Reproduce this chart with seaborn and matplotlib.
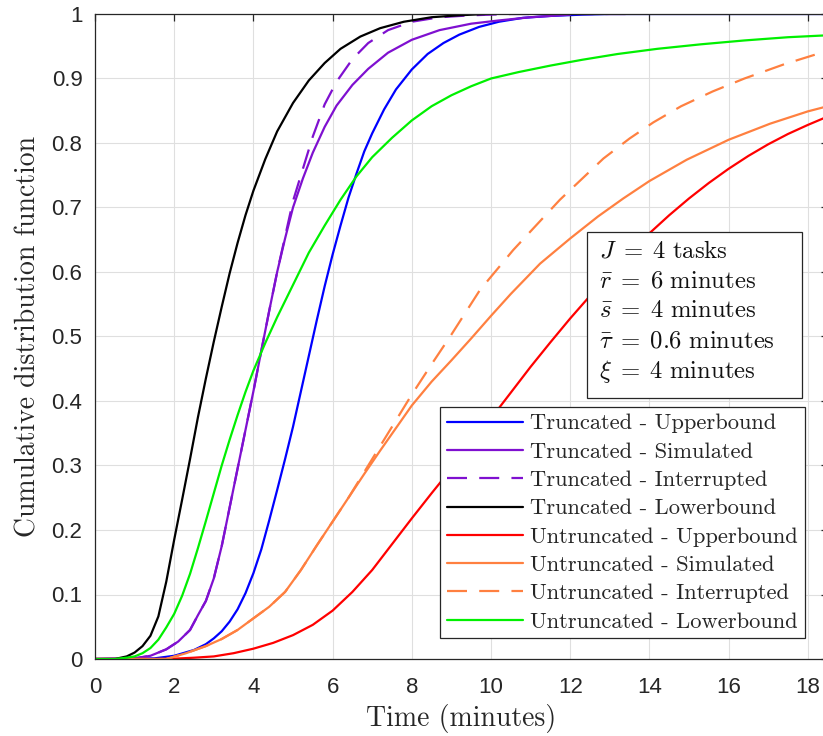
import numpy as np
import pandas as pd
import matplotlib
matplotlib.use("Agg")
import matplotlib.pyplot as plt
from matplotlib.patches import Rectangle
import seaborn as sns

# ---------------- data ----------------
tu_x = [0, 1.5, 2.0, 2.5, 2.8, 3.0, 3.2, 3.4, 3.6, 3.8, 4.0, 4.2, 4.4, 4.6, 4.8, 5.0, 5.2, 5.4, 5.6, 5.8,
        6.0, 6.2, 6.4, 6.6, 6.8, 7.0, 7.3, 7.6, 8.0, 8.4, 8.8, 9.2, 9.7, 10.2, 10.8, 11.5, 12.3, 13.0, 18.5]
tu_y = [0, 0.001, 0.005, 0.014, 0.023, 0.032, 0.043, 0.058, 0.077, 0.102, 0.133, 0.17, 0.215, 0.262, 0.31, 0.36,
        0.415, 0.47, 0.525, 0.578, 0.627, 0.672, 0.715, 0.752, 0.787, 0.815, 0.852, 0.883, 0.914, 0.938, 0.955,
        0.968, 0.98, 0.988, 0.994, 0.997, 0.999, 1.0, 1.0]

ts_x = [0, 1.0, 1.4, 1.8, 2.1, 2.4, 2.6, 2.8, 3.0, 3.2, 3.4, 3.6, 3.8, 4.0, 4.2, 4.4, 4.6, 4.8, 5.0, 5.25,
        5.5, 5.8, 6.1, 6.5, 6.9, 7.4, 8.0, 8.7, 9.5, 10.2, 11.0, 12.0]
ts_y = [0, 0.001, 0.005, 0.015, 0.027, 0.045, 0.068, 0.09, 0.125, 0.175, 0.235, 0.295, 0.355, 0.415, 0.478,
        0.54, 0.60, 0.652, 0.70, 0.745, 0.785, 0.825, 0.858, 0.89, 0.915, 0.94, 0.96, 0.975, 0.985, 0.99,
        0.995, 0.999]

ti_x = [0, 1.0, 1.4, 1.8, 2.1, 2.4, 2.6, 2.8, 3.0, 3.2, 3.4, 3.6, 3.8, 4.0, 4.2, 4.4, 4.6, 4.8, 5.0, 5.25,
        5.5, 5.8, 6.1, 6.5, 6.9, 7.4, 8.0, 8.7, 9.5, 10.5, 13.6]
ti_y = [0, 0.001, 0.005, 0.015, 0.027, 0.045, 0.068, 0.09, 0.125, 0.175, 0.235, 0.295, 0.355, 0.415, 0.478,
        0.54, 0.60, 0.655, 0.71, 0.76, 0.81, 0.86, 0.895, 0.93, 0.955, 0.975, 0.988, 0.995, 0.998, 1.0, 1.0]

tl_x = [0, 0.5, 0.8, 1.0, 1.2, 1.4, 1.6, 1.8, 2.0, 2.2, 2.4, 2.6, 2.8, 3.0, 3.2, 3.4, 3.6, 3.8, 4.0, 4.3,
        4.6, 5.0, 5.4, 5.8, 6.2, 6.7, 7.2, 7.8, 8.5, 9.2, 9.85]
tl_y = [0, 0, 0.004, 0.01, 0.02, 0.036, 0.066, 0.12, 0.185, 0.247, 0.31, 0.375, 0.435, 0.492, 0.546, 0.598,
        0.645, 0.688, 0.726, 0.775, 0.818, 0.862, 0.897, 0.924, 0.946, 0.965, 0.978, 0.988, 0.995, 0.998, 1.0]

uu_x = [0, 1.5, 2.0, 2.5, 3.0, 3.5, 4.0, 4.5, 5.0, 5.5, 6.0, 6.5, 7.0, 7.5, 8.0, 8.5, 9.0, 9.5, 10.0, 10.5,
        11.0, 11.5, 12.0, 12.5, 13.0, 13.5, 14.0, 14.5, 15.0, 15.5, 16.0, 16.5, 17.0, 17.5, 18.0, 18.5]
uu_y = [0, 0, 0.0005, 0.002, 0.004, 0.009, 0.016, 0.025, 0.037, 0.053, 0.075, 0.104, 0.138, 0.178, 0.218, 0.257,
        0.295, 0.333, 0.373, 0.413, 0.453, 0.491, 0.528, 0.563, 0.597, 0.63, 0.66, 0.688, 0.714, 0.738, 0.76,
        0.78, 0.798, 0.814, 0.828, 0.841]

us_x = [0, 1.8, 2.3, 2.8, 3.2, 3.6, 4.0, 4.4, 4.8, 5.2, 5.6, 6.0, 6.4, 6.8, 7.2, 7.6, 8.0, 8.5, 9.0, 9.5,
        10.0, 10.5, 11.24, 12.0, 12.7, 13.34, 14.0, 14.94, 16.0, 17.05, 18.0, 18.5]
us_y = [0, 0, 0.009, 0.02, 0.031, 0.045, 0.063, 0.081, 0.104, 0.138, 0.176, 0.213, 0.25, 0.287, 0.323, 0.358,
        0.393, 0.43, 0.463, 0.497, 0.532, 0.566, 0.613, 0.652, 0.686, 0.714, 0.741, 0.774, 0.805, 0.83, 0.849, 0.857]

ui_x = [0, 1.8, 2.3, 2.8, 3.2, 3.6, 4.0, 4.4, 4.8, 5.2, 5.6, 6.0, 6.4, 6.8, 7.2, 7.6, 8.0, 8.5, 9.0, 9.72,
        10.56, 11.74, 12.84, 13.5, 14.1, 14.8, 15.6, 16.4, 17.4, 18.5]
ui_y = [0, 0, 0.009, 0.02, 0.031, 0.045, 0.063, 0.081, 0.104, 0.138, 0.176, 0.213, 0.25, 0.29, 0.33, 0.37,
        0.41, 0.457, 0.503, 0.572, 0.634, 0.712, 0.776, 0.807, 0.832, 0.857, 0.88, 0.90, 0.922, 0.943]

ul_x = [0, 0.5, 0.8, 1.0, 1.2, 1.4, 1.6, 1.8, 2.0, 2.2, 2.4, 2.6, 2.8, 3.0, 3.2, 3.4, 3.6, 3.8, 4.0, 4.3,
        4.6, 5.0, 5.4, 5.8, 6.2, 6.6, 7.0, 7.5, 8.0, 8.5, 9.0, 9.5, 10.0, 10.7, 11.5, 12.3, 13.2, 14.2, 15.3,
        16.4, 17.5, 18.5]
ul_y = [0, 0, 0.002, 0.004, 0.009, 0.017, 0.03, 0.049, 0.07, 0.098, 0.132, 0.172, 0.214, 0.257, 0.30, 0.34,
        0.378, 0.414, 0.447, 0.49, 0.53, 0.58, 0.63, 0.672, 0.712, 0.748, 0.778, 0.808, 0.835, 0.857, 0.874,
        0.888, 0.90, 0.91, 0.92, 0.929, 0.938, 0.946, 0.953, 0.959, 0.964, 0.967]

labels = ["Truncated - Upperbound", "Truncated - Simulated", "Truncated - Interrupted",
          "Truncated - Lowerbound", "Untruncated - Upperbound", "Untruncated - Simulated",
          "Untruncated - Interrupted", "Untruncated - Lowerbound"]
series_x = [tu_x, ts_x, ti_x, tl_x, uu_x, us_x, ui_x, ul_x]
series_y = [tu_y, ts_y, ti_y, tl_y, uu_y, us_y, ui_y, ul_y]
colors = ["#0000FF", "#7F10D0", "#7F10D0", "#000000", "#FF0000", "#FF8040", "#FF8040", "#00F000"]
dashed = [False, False, True, False, False, False, True, False]

info_lines = [r"$J\;=\;4\ \mathrm{tasks}$",
              r"$\bar{r}\;=\;6\ \mathrm{minutes}$",
              r"$\bar{s}\;=\;4\ \mathrm{minutes}$",
              r"$\bar{\tau}\;=\;0.6\ \mathrm{minutes}$",
              r"$\xi\;=\;4\ \mathrm{minutes}$"]

# ---------------- style ----------------
sns.set_theme(style="white")
plt.rcParams['font.family'] = ['Liberation Sans', 'DejaVu Sans']
plt.rcParams['mathtext.fontset'] = 'cm'
plt.rcParams['axes.unicode_minus'] = False

W, H = 823, 736
fig = plt.figure(figsize=(W / 100, H / 100), dpi=100)
x0_px, y0_px, y1_px = 95, 659, 14
xmax = 18.5
px_per_unit = 39.6
right_px = x0_px + xmax * px_per_unit
ax = fig.add_axes([x0_px / W, 1 - y0_px / H, (right_px - x0_px) / W, (y0_px - y1_px) / H])

def px2data(px, py):
    return (px - x0_px) / px_per_unit, (y0_px - py) / (y0_px - y1_px)

DASH = (9, 5.5)
for lab, xs, ys, c, d in zip(labels, series_x, series_y, colors, dashed):
    df = pd.DataFrame({"x": xs, "y": ys})
    sns.lineplot(data=df, x="x", y="y", ax=ax, color=c, lw=1.6,
                 estimator=None, sort=False, label=lab)
    if d:
        ax.lines[-1].set_dashes(DASH)

ax.set_xlim(0, xmax)
ax.set_ylim(0, 1)
ax.set_xticks(np.arange(0, 19, 2))
ax.set_yticks(np.arange(0, 1.01, 0.1))
ax.set_yticklabels(["0"] + [f"{v:.1f}" for v in np.arange(0.1, 0.95, 0.1)] + ["1"])
ax.grid(True, color="#DFDFDF", lw=0.8)
ax.set_axisbelow(True)
for s in ax.spines.values():
    s.set_color("#262626")
    s.set_linewidth(0.9)
ax.tick_params(direction="in", length=5, width=0.9, colors="#262626",
               labelsize=16, top=True, right=True, labelcolor="#262626")
ax.tick_params(axis="y", pad=9)
ax.tick_params(axis="x", pad=13)

ax.set_xlabel("Time (minutes)", fontsize=20, family="cmr10", color="#262626", labelpad=4)
ax.set_ylabel("Cumulative distribution function", fontsize=20, family="cmr10", color="#262626", labelpad=7)

leg = ax.legend(loc="upper left", bbox_to_anchor=((440 - x0_px) / (right_px - x0_px), (y0_px - 407) / (y0_px - y1_px)),
                borderaxespad=0, prop={"family": "cmr10", "size": 16.2}, frameon=True, fancybox=False,
                framealpha=1, edgecolor="#262626", handlelength=3.4, labelspacing=0.38, borderpad=0.3,
                handletextpad=0.3)
leg.get_frame().set_linewidth(0.9)

# parameter box
bx0, by0 = px2data(587, 398)
bx1, by1 = px2data(802, 232)
ax.add_patch(Rectangle((bx0, by0), bx1 - bx0, by1 - by0, fc="white", ec="#262626", lw=0.9, zorder=5))
tx, ty = px2data(599, 239)
ax.text(tx, ty, "\n".join(info_lines), fontsize=17.8, color="#111111", va="top", ha="left",
        linespacing=1.3, zorder=6)

fig.savefig("out.png", dpi=100)
